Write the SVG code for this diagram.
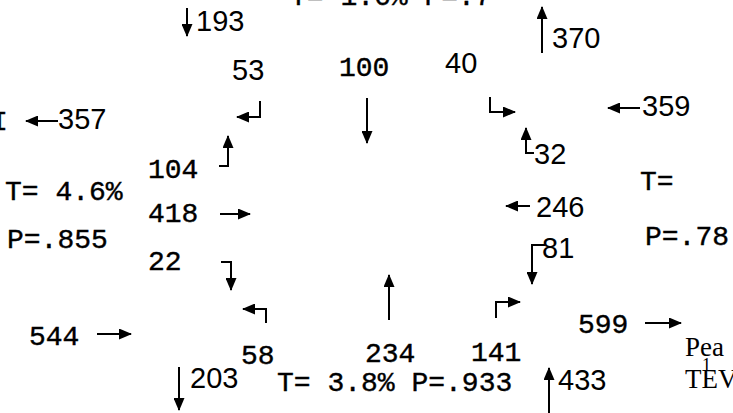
<svg xmlns="http://www.w3.org/2000/svg" width="733" height="413" viewBox="0 0 733 413">
<style>
.m{font-family:"Liberation Mono","Courier New",monospace;font-size:28px;fill:#000;stroke:#000;stroke-width:0.4}
.s{font-family:"Liberation Sans",Arial,sans-serif;font-size:29px;fill:#000}
.r{font-family:"Liberation Serif","Times New Roman",serif;font-size:27px;fill:#000}
.c path{fill:none;stroke:#000;stroke-width:2;marker-end:url(#ah)}
</style>
<defs>
<marker id="ah" markerUnits="userSpaceOnUse" markerWidth="13" markerHeight="11" refX="12" refY="5.5" orient="auto">
<path d="M0,0 L13,5.5 L0,11 z" fill="#000"/>
</marker>
</defs>
<rect width="733" height="413" fill="#fff"/>
<g id="connectors" class="c">
<path d="M187,8 V36"/>
<path d="M367,98 V143"/>
<path d="M542,53 V7"/>
<path d="M640,108 H608"/>
<path d="M58,121 H26"/>
<path d="M220,214 H250"/>
<path d="M530,206 H506"/>
<path d="M97,334 H131"/>
<path d="M389,320 V275"/>
<path d="M645,323 H681"/>
<path d="M179,367 V410"/>
<path d="M549,413 V368"/>
<path d="M260,101 V117 H237"/>
<path d="M490,97 V112 H515"/>
<path d="M219,166 H228 V136"/>
<path d="M534,153 H526 V128"/>
<path d="M545,245 H532 V284"/>
<path d="M221,262 H231 V290"/>
<path d="M266,323 V309 H243"/>
<path d="M496,318 V302 H520"/>
</g>
<g id="top"><text class="m" x="290" y="5">T= 1.6% P=.7</text></g>
<g id="left-edge"><text class="m" x="-9" y="130">I</text></g>
<g id="n193"><text class="s" x="196" y="31">193</text></g>
<g id="n53"><text class="s" x="232" y="80">53</text></g>
<g id="n100"><text class="m" x="339" y="76">100</text></g>
<g id="n40"><text class="s" x="445" y="73">40</text></g>
<g id="n370"><text class="s" x="552" y="48">370</text></g>
<g id="n357"><text class="s" x="58" y="129">357</text></g>
<g id="n359"><text class="s" x="642" y="116">359</text></g>
<g id="n104"><text class="m" x="148" y="178">104</text></g>
<g id="tl"><text class="m" x="5" y="200">T= 4.6%</text></g>
<g id="n418"><text class="m" x="148" y="222">418</text></g>
<g id="pl"><text class="m" x="7" y="248">P=.855</text></g>
<g id="n22"><text class="m" x="148" y="270">22</text></g>
<g id="n544"><text class="m" x="29" y="345">544</text></g>
<g id="n58"><text class="m" x="241" y="364">58</text></g>
<g id="n203"><text class="s" x="190" y="388">203</text></g>
<g id="n234"><text class="m" x="365" y="362">234</text></g>
<g id="n141"><text class="m" x="471" y="361">141</text></g>
<g id="tb"><text class="m" x="277" y="391">T= 3.8% P=.933</text></g>
<g id="n433"><text class="s" x="558" y="390">433</text></g>
<g id="n599"><text class="m" x="578" y="333">599</text></g>
<g id="n32"><text class="s" x="534" y="164">32</text></g>
<g id="n246"><text class="s" x="536" y="217">246</text></g>
<g id="n81"><text class="s" x="542" y="258">81</text></g>
<g id="tr"><text class="m" x="640" y="190">T=</text></g>
<g id="pr"><text class="m" x="645" y="245">P=.78</text></g>
<g id="pear"><text class="r" x="685" y="356">Pea</text><text class="r" x="702" y="371" style="font-size:18px">1</text><text class="r" x="685" y="388">TEV</text></g>
</svg>
